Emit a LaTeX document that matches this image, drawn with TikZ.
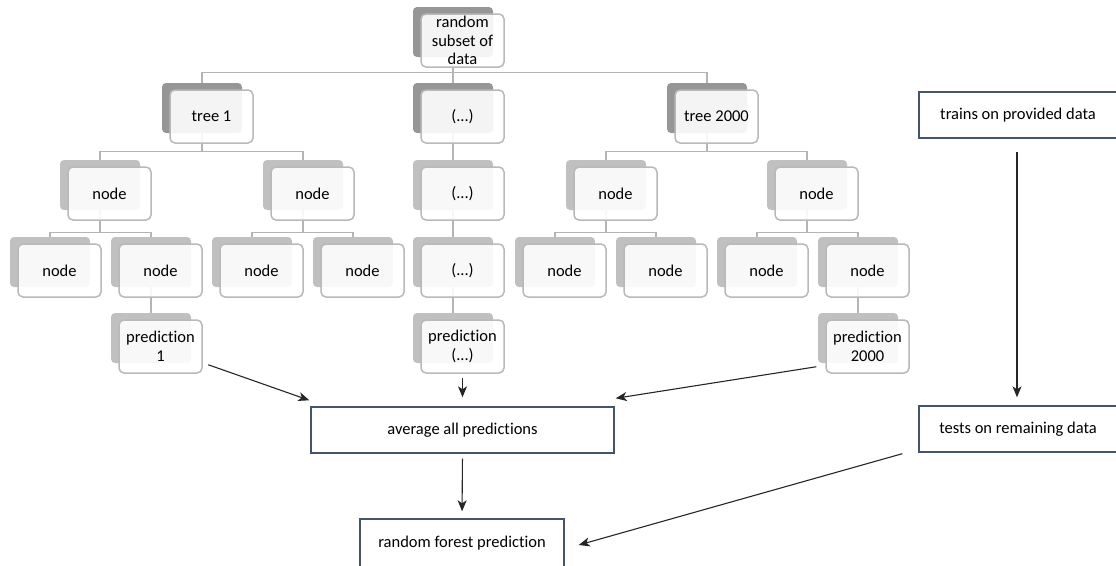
\documentclass[tikz,border=0pt]{standalone}
\usepackage{fontspec}
\setmainfont{Carlito}[Ligatures={NoCommon}]
\usetikzlibrary{arrows.meta,calc,backgrounds}
\definecolor{darkback}{RGB}{150,150,150}
\definecolor{lightback}{RGB}{192,192,192}
\definecolor{frontline}{RGB}{185,185,185}
\definecolor{connline}{RGB}{180,180,180}
\definecolor{boxline}{RGB}{68,84,106}
\newcommand{\tnode}[5]{%
  \node[backbox,fill=#4] (#1b) at (#2,#3+25) {};
  \node[frontbox] (#1) at (#2+9.5,#3+33.5) {#5};}
\begin{document}
\begin{tikzpicture}[x=1pt,y=-1pt,
  backbox/.style={draw=none,rounded corners=4pt,minimum width=80pt,minimum height=50pt,inner sep=0pt},
  frontbox/.style={draw=frontline,line width=1.5pt,fill=white,fill opacity=0.9,text opacity=1,rounded corners=5pt,
    minimum width=83pt,minimum height=53pt,inner sep=0pt,align=center,font=\fontsize{16.5}{18.5}\selectfont},
  conn/.style={draw=connline,line width=1.4pt},
  flowbox/.style={draw=boxline,line width=1.4pt,fill=white,inner sep=0pt,font=\fontsize{16.5}{18.5}\selectfont},
  arr/.style={draw=black!85,line width=1.1pt,-{Stealth[length=11pt,width=9pt,inset=3pt]}}]
\useasboundingbox (0,0) rectangle (1116,565);
% row 0
\tnode{root}{453}{7}{darkback}{random\\subset of\\data}
% row 1
\tnode{t1}{202}{83}{darkback}{tree 1}
\tnode{tm}{453}{83}{darkback}{(...)}
\tnode{t2}{707}{83}{darkback}{tree 2000}
% row 2
\tnode{a1}{100}{160}{lightback}{node}
\tnode{a2}{303}{160}{lightback}{node}
\tnode{mm2}{453}{160}{lightback}{(...)}
\tnode{c1}{606}{160}{lightback}{node}
\tnode{c2}{807}{160}{lightback}{node}
% row 3
\tnode{a11}{50}{237}{lightback}{node}
\tnode{a12}{151}{237}{lightback}{node}
\tnode{a21}{252}{237}{lightback}{node}
\tnode{a22}{353}{237}{lightback}{node}
\tnode{mm3}{453}{237}{lightback}{(...)}
\tnode{c11}{555}{237}{lightback}{node}
\tnode{c12}{656}{237}{lightback}{node}
\tnode{c21}{757}{237}{lightback}{node}
\tnode{c22}{858}{237}{lightback}{node}
% row 4
\tnode{p1}{151}{313}{lightback}{prediction\\1}
\tnode{pm}{453}{313}{lightback}{prediction\\(...)}
\tnode{p3}{858}{313}{lightback}{prediction\\2000}
% connectors
\begin{pgfonlayer}{background}
\draw[conn] (rootb.south) -- ++(0,15) -| (t1b.north);
\draw[conn] (rootb.south) -- ++(0,15) -| (t2b.north);
\draw[conn] (rootb.south) -- (tmb.north);
\draw[conn] (t1b.south) -- ++(0,18) -| (a1b.north);
\draw[conn] (t1b.south) -- ++(0,18) -| (a2b.north);
\draw[conn] (t2b.south) -- ++(0,18) -| (c1b.north);
\draw[conn] (t2b.south) -- ++(0,18) -| (c2b.north);
\draw[conn] (tmb.south) -- (mm2b.north);
\draw[conn] (mm2b.south) -- (mm3b.north);
\draw[conn] (mm3b.south) -- (pmb.north);
\draw[conn] (a1b.south) -- ++(0,22) -| (a11b.north);
\draw[conn] (a1b.south) -- ++(0,22) -| (a12b.north);
\draw[conn] (a2b.south) -- ++(0,22) -| (a21b.north);
\draw[conn] (a2b.south) -- ++(0,22) -| (a22b.north);
\draw[conn] (c1b.south) -- ++(0,22) -| (c11b.north);
\draw[conn] (c1b.south) -- ++(0,22) -| (c12b.north);
\draw[conn] (c2b.south) -- ++(0,22) -| (c21b.north);
\draw[conn] (c2b.south) -- ++(0,22) -| (c22b.north);
\draw[conn] (a12b.south) -- (p1b.north);
\draw[conn] (c22b.south) -- (p3b.north);
\end{pgfonlayer}
% flow boxes
\node[flowbox,minimum width=303pt,minimum height=46pt] (avg) at (462.5,430) {average all predictions};
\node[flowbox,minimum width=204pt,minimum height=48pt] (rfp) at (462,543) {random forest prediction};
\node[flowbox,minimum width=198pt,minimum height=46pt] (trains) at (1018,115) {trains on provided data};
\node[flowbox,minimum width=198pt,minimum height=46pt] (tests) at (1018,429) {tests on remaining data};
% arrows
\draw[arr] ($(p1.south east)+(5.5,-9)$) -- ($(avg.north west)+(-1,-6)$);
\draw[arr,shorten <=4pt,shorten >=9pt] (pm.south) -- (avg.north);
\draw[arr] ($(p3.south west)+(-9,-7)$) -- ($(avg.north east)+(1,-8)$);
\draw[arr,shorten <=5pt,shorten >=7pt] (avg.south) -- (rfp.north);
\draw[arr] ($(tests.south west)+(-16,1)$) -- ($(rfp.east)+(14,2)$);
\draw[arr,shorten <=13pt,shorten >=8pt] (trains.south -| 1017,0) -- (tests.north -| 1017,0);
\end{tikzpicture}
\end{document}
